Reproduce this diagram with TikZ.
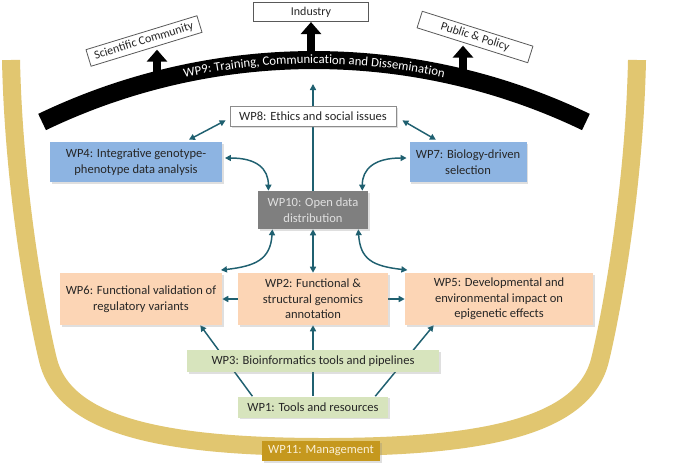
\documentclass[tikz,border=0pt]{standalone}
\usepackage{fontspec}
\setmainfont{Carlito}
\usetikzlibrary{arrows.meta,shadows,decorations.text,calc}
\definecolor{tealc}{RGB}{31,96,112}
\definecolor{bluebox}{RGB}{141,180,226}
\definecolor{peachbox}{RGB}{252,213,181}
\definecolor{greenbox}{RGB}{215,228,189}
\definecolor{graybox}{RGB}{127,127,127}
\definecolor{goldband}{RGB}{225,198,112}
\definecolor{goldbox}{RGB}{197,152,30}
\definecolor{goldtext}{RGB}{250,240,215}
\newcommand{\wpninefont}{\fontsize{9.6}{11}\selectfont}
\pgfdeclarelayer{back}
\pgfdeclarelayer{mid}
\pgfsetlayers{back,mid,main}
\begin{document}
\begin{tikzpicture}[x=0.75pt,y=-0.75pt,
  >={Triangle[length=4.5pt,width=4.5pt]},
  wpbox/.style={align=center, inner sep=2pt, font=\fontsize{9.4}{11.6}\selectfont, text=black!85,
    drop shadow={shadow xshift=1.2pt,shadow yshift=-1.2pt,opacity=0.25}},
  outbox/.style={draw=black!65, fill=white, line width=0.6pt, align=center, inner sep=1pt,
    font=\fontsize{9}{11}\selectfont, text=black!85},
  conn/.style={draw=tealc, line width=1.1pt},
  bigarrow/.style={draw=black, line width=6pt, -{Triangle[width=15pt,length=9pt]}}
]
\useasboundingbox (0,0) rectangle (680,471);

% ---------- nodes ----------
\node[outbox, minimum width=86pt, minimum height=14.5pt] (ind) at (311,12) {Industry};
\node[outbox, rotate=17, minimum width=87pt, minimum height=13pt] (sci) at (144,41) {Scientific Community};
\node[outbox, rotate=-17.5, minimum width=87pt, minimum height=13pt] (pub) at (475,37) {Public \& Policy};

\node[wpbox, fill=white, draw=black!45, line width=0.6pt, minimum width=124.5pt, minimum height=15pt] (wp8) at (313,116) {WP8: Ethics and social issues};
\node[wpbox, fill=bluebox, minimum width=129pt, minimum height=30pt] (wp4) at (136,162) {WP4: Integrative genotype-\\phenotype data analysis};
\node[wpbox, fill=bluebox, minimum width=87.75pt, minimum height=30pt] (wp7) at (468,162) {WP7: Biology-driven\\selection};
\node[wpbox, fill=graybox, text=white!88!black, minimum width=82.5pt, minimum height=28.5pt] (wp10) at (313,210) {WP10: Open data\\distribution};
\node[wpbox, fill=peachbox, minimum width=121.5pt, minimum height=39pt] (wp6) at (141,299) {WP6: Functional validation of\\regulatory variants};
\node[wpbox, fill=peachbox, minimum width=112.5pt, minimum height=39pt] (wp2) at (313,299) {WP2: Functional \&\\structural genomics\\annotation};
\node[wpbox, fill=peachbox, minimum width=141pt, minimum height=39pt] (wp5) at (499,299) {WP5: Developmental and\\environmental impact on\\epigenetic effects};
\node[wpbox, fill=greenbox, minimum width=189pt, minimum height=16.5pt] (wp3) at (313,361) {WP3: Bioinformatics tools and pipelines};
\node[wpbox, fill=greenbox, minimum width=112.5pt, minimum height=15.75pt] (wp1) at (313,407) {WP1: Tools and resources};
\node[wpbox, fill=goldbox, text=goldtext, minimum width=88.5pt, minimum height=15pt] (wp11) at (321,451) {WP11: Management};

% ---------- background: U band, arc, big arrows ----------
\begin{pgfonlayer}{back}
\fill[white] (0,0) rectangle (680,471);
\draw[line width=13.5pt, goldband]
  (11,60) .. controls (14,200) and (40,328) .. (48,360)
  .. controls (64,425) and (160,447) .. (324,447)
  .. controls (488,447) and (584,425) .. (600,360)
  .. controls (608,328) and (634,200) .. (637,60);
\coordinate (a1) at (157,78);
\coordinate (a2) at (311,60);
\coordinate (a3) at (463,77);
\draw[bigarrow] (a1) -- (sci.south -| a1);
\draw[bigarrow] (a2) -- (ind.south -| a2);
\draw[bigarrow] (a3) -- (pub.south -| a3);
\draw[line width=13.5pt, black] (42.1,122.0) .. controls (214.0,39.4) and (414.0,39.4) .. (585.9,122.0);
\path[decorate, decoration={text along path, text align=center, text color=white,
  text={|\wpninefont|WP9: Training, Communication and Dissemination}}]
  (43.7,125.4) .. controls (214.6,43.2) and (413.4,43.2) .. (584.3,125.4);
\end{pgfonlayer}

% ---------- connectors ----------
\begin{pgfonlayer}{mid}
\coordinate (tip8) at (313,84);
\draw[conn,->] (wp10.north) -- (tip8);
\draw[conn,<->] ([xshift=-3pt,yshift=4.5pt]wp8.south west) -- ([xshift=-25pt,yshift=1.5pt]wp4.north east);
\draw[conn,<->] ([xshift=4.5pt,yshift=4.5pt]wp8.south east) -- ([xshift=20pt,yshift=1.5pt]wp7.north west);
\draw[conn,<->] ([xshift=2pt,yshift=3pt]wp4.east) .. controls +(32,0) and +(0,-22) .. ([xshift=8pt]wp10.north west);
\draw[conn,<->] ([xshift=-2pt,yshift=3pt]wp7.west) .. controls +(-32,0) and +(0,-22) .. ([xshift=-4.5pt]wp10.north east);
\draw[conn,<->] ([xshift=11pt]wp10.south west) .. controls +(-2,30) and +(35,-4) .. ([xshift=-1pt,yshift=2pt]wp6.north east);
\draw[conn,<->] ([xshift=-7.5pt]wp10.south east) .. controls +(2,30) and +(-35,-4) .. ([xshift=2pt,yshift=2pt]wp5.north west);
\draw[conn,<->] (wp10.south) -- (wp2.north);
\draw[conn,->,line width=1.6pt] (wp2.west) -- (wp6.east);
\draw[conn,->,line width=1.6pt] (wp2.east) -- (wp5.west);
\draw[conn,->] ([xshift=11pt]wp1.north west) -- ([xshift=-16.5pt]wp6.south east);
\draw[conn,->] (wp1.north) -- (wp2.south);
\draw[conn,->] ([xshift=-9.75pt]wp1.north east) -- ([xshift=21.75pt]wp5.south west);
\end{pgfonlayer}
\end{tikzpicture}
\end{document}
